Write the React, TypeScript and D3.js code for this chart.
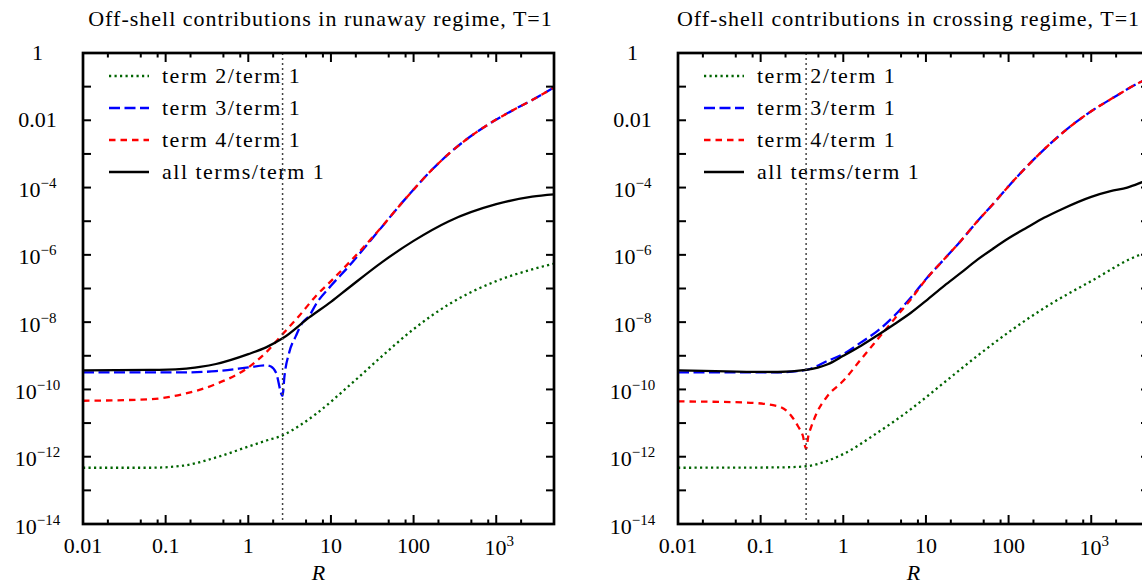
import React from "react";
import * as d3 from "d3";

type Pt = [number, number];

// ---------- data ----------
const TITLES = [
  "Off-shell contributions in runaway regime, T=1",
  "Off-shell contributions in crossing regime, T=1",
];
const SERIES_NAMES = ["term 2/term 1", "term 3/term 1", "term 4/term 1", "all terms/term 1"];

const X_TICKS = [0.01, 0.1, 1, 10, 100, 1000];
const X_TICK_LABELS: [string, string][] = [
  ["0.01", ""], ["0.1", ""], ["1", ""], ["10", ""], ["100", ""], ["10", "3"],
];
const X_MINOR_MULT = [2, 5, 8];
const Y_EXPONENTS = d3.range(-14, 1);
const Y_LABEL_EXPONENTS = [0, -2, -4, -6, -8, -10, -12, -14];
const VLINE_R = [2.6, 0.355];

// runaway regime
const LEFT_TERM2: Pt[] = [
  [0.01, 4.7e-13], [0.064, 4.7e-13], [0.161, 5.4e-13], [0.407, 9.5e-13], [1, 2.0e-12],
  [1.64, 3.0e-12], [2.6, 4.3e-12], [4.14, 8.3e-12], [6.58, 1.86e-11], [16.6, 1.29e-10],
  [42, 1.0e-9], [100, 6.2e-9], [268, 3.4e-8], [1000, 1.66e-7], [2722, 3.7e-7], [5000, 5.5e-7],
];
const LEFT_TERM3: Pt[] = [
  [0.01, 3.2e-10], [0.161, 3.2e-10], [0.407, 3.5e-10], [1, 4.5e-10], [1.64, 5.2e-10],
  [1.88, 4.8e-10], [2.16, 3.2e-10], [2.6, 6.5e-11], [2.73, 2.3e-10], [3.13, 1.26e-9],
  [3.77, 3.9e-9], [4.54, 9.8e-9], [5.47, 1.55e-8], [6.58, 3.4e-8], [10, 1.2e-7],
  [16.6, 4.7e-7], [26.4, 1.8e-6], [42, 7.1e-6], [66.7, 2.8e-5], [100, 8.7e-5],
  [169, 3.5e-4], [268, 1.02e-3], [427, 2.6e-3], [680, 5.8e-3], [1000, 1.05e-2],
  [1714, 2.2e-2], [2722, 4.0e-2], [5000, 9.5e-2],
];
const LEFT_TERM4: Pt[] = [
  [0.01, 4.6e-11], [0.064, 5.1e-11], [0.161, 7.2e-11], [0.407, 1.45e-10], [1, 4.5e-10],
  [1.64, 1.26e-9], [2.6, 4.4e-9], [4.14, 1.55e-8], [6.58, 6.0e-8], [10, 1.66e-7],
  [16.6, 5.9e-7], [26.4, 2.0e-6], [42, 7.2e-6], [66.7, 2.8e-5], [100, 8.7e-5],
  [169, 3.5e-4], [268, 1.02e-3], [427, 2.6e-3], [680, 5.8e-3], [1000, 1.05e-2],
  [1714, 2.2e-2], [2722, 4.0e-2], [5000, 9.5e-2],
];
const LEFT_ALL: Pt[] = [
  [0.01, 3.7e-10], [0.064, 3.8e-10], [0.161, 4.1e-10], [0.26, 4.7e-10], [0.407, 5.7e-10],
  [1, 1.12e-9], [1.64, 1.78e-9], [2.6, 3.3e-9], [5.47, 1.38e-8], [10, 4.0e-8],
  [16.6, 1.07e-7], [42, 6.2e-7], [100, 2.6e-6], [268, 1.0e-5], [1000, 3.2e-5],
  [2722, 5.4e-5], [5000, 6.3e-5],
];

// crossing regime
const RIGHT_TERM2: Pt[] = [
  [0.01, 4.7e-13], [0.161, 4.8e-13], [0.355, 5.2e-13], [0.648, 7.6e-13], [1, 1.2e-12],
  [2.6, 5.2e-12], [6.58, 2.6e-11], [16.6, 1.6e-10], [42, 1.0e-9], [100, 5.0e-9],
  [268, 2.6e-8], [1000, 1.66e-7], [4130, 1.05e-6], [5000, 1.2e-6],
];
const RIGHT_TERM3: Pt[] = [
  [0.01, 3.2e-10], [0.161, 3.2e-10], [0.355, 3.8e-10], [0.648, 7.1e-10], [1, 1.12e-9],
  [1.64, 2.5e-9], [2.6, 5.5e-9], [4.14, 1.55e-8], [6.58, 5.4e-8], [10, 1.9e-7],
  [16.6, 7.4e-7], [26.4, 2.6e-6], [42, 1.0e-5], [66.7, 3.5e-5], [100, 1.1e-4],
  [169, 4.4e-4], [268, 1.35e-3], [427, 3.8e-3], [1000, 1.86e-2], [1714, 4.2e-2],
  [4130, 0.145], [5000, 0.18],
];
const RIGHT_TERM4: Pt[] = [
  [0.01, 4.4e-11], [0.064, 4.1e-11], [0.161, 3.2e-11], [0.234, 1.66e-11], [0.281, 8.3e-12],
  [0.324, 4.2e-12], [0.355, 1.7e-12], [0.378, 4.2e-12], [0.407, 7.4e-12], [0.491, 2.3e-11],
  [0.648, 6.5e-11], [1, 1.8e-10], [1.64, 7.9e-10], [2.6, 3.1e-9], [4.14, 1.23e-8],
  [6.58, 4.8e-8], [10, 1.86e-7], [16.6, 7.4e-7], [26.4, 2.6e-6], [42, 1.0e-5],
  [66.7, 3.5e-5], [100, 1.1e-4], [169, 4.4e-4], [268, 1.35e-3], [427, 3.8e-3],
  [1000, 1.86e-2], [1714, 4.2e-2], [4130, 0.145], [5000, 0.18],
];
const RIGHT_ALL: Pt[] = [
  [0.01, 3.7e-10], [0.161, 3.3e-10], [0.355, 3.8e-10], [0.648, 5.6e-10], [1, 1.0e-9],
  [1.64, 2.0e-9], [2.6, 4.1e-9], [4.14, 8.7e-9], [6.58, 1.9e-8], [10, 4.3e-8],
  [16.6, 1.2e-7], [26.4, 2.9e-7], [42, 7.2e-7], [66.7, 1.6e-6], [100, 3.1e-6],
  [169, 6.6e-6], [268, 1.26e-5], [427, 2.2e-5], [1000, 5.3e-5], [1714, 7.8e-5],
  [2722, 1.0e-4], [4130, 1.45e-4], [5000, 1.74e-4],
];

const PANELS = [
  { title: TITLES[0], series: [LEFT_TERM2, LEFT_TERM3, LEFT_TERM4, LEFT_ALL], vline: VLINE_R[0] },
  { title: TITLES[1], series: [RIGHT_TERM2, RIGHT_TERM3, RIGHT_TERM4, RIGHT_ALL], vline: VLINE_R[1] },
];

// ---------- styles ----------
const STYLES = [
  { color: "#006400", dash: "2.2,3.3", width: 2.3 },
  { color: "#0000ff", dash: "11,4.5", width: 2.3 },
  { color: "#ff0000", dash: "6.5,5", width: 2.3 },
  { color: "#000000", dash: "", width: 2.3 },
];
const FONT = "'Liberation Serif', 'DejaVu Serif', serif";
const PANEL_LEFTS = [83, 678];
const TITLE_SHIFT = [2, -5];
const TOP = 53;
const SIZE = 471;

function yLabel(e: number): [string, string] {
  if (e === 0) return ["1", ""];
  if (e === -2) return ["0.01", ""];
  return ["10", "\u2212" + String(-e)];
}

function Panel({ idx }: { idx: number }) {
  const p = PANELS[idx];
  const left = PANEL_LEFTS[idx];
  const right = left + SIZE;
  const bottom = TOP + SIZE;
  const x = d3.scaleLog().domain([0.01, 5000]).range([left, right]);
  const y = d3.scaleLog().domain([1e-14, 1]).range([bottom, TOP]);
  const line = d3
    .line<Pt>()
    .x((d) => x(d[0]))
    .y((d) => y(d[1]))
    .curve(d3.curveMonotoneX);
  const clipId = `clip${idx}`;
  const minor: number[] = [];
  X_TICKS.forEach((d) => X_MINOR_MULT.forEach((m) => { if (d * m < 5000) minor.push(d * m); }));
  const cx = (left + right) / 2;

  return (
    <g>
      <defs>
        <clipPath id={clipId}>
          <rect x={left} y={TOP} width={SIZE} height={SIZE} />
        </clipPath>
      </defs>
      <text x={cx + TITLE_SHIFT[idx]} y={26} textAnchor="middle" fontSize={22} letterSpacing={1.0} fontFamily={FONT}>
        {p.title}
      </text>
      <g clipPath={`url(#${clipId})`}>
        {p.series.map((s, i) => (
          <path key={i} d={line(s) || ""} fill="none" stroke={STYLES[i].color}
            strokeWidth={STYLES[i].width} strokeDasharray={STYLES[i].dash || undefined}
            strokeLinejoin="round" />
        ))}
      </g>
      {/* legend */}
      {SERIES_NAMES.map((name, i) => {
        const ly = TOP + 23 + i * 32;
        return (
          <g key={name}>
            <line x1={left + 26} x2={left + 66} y1={ly} y2={ly} stroke={STYLES[i].color}
              strokeWidth={STYLES[i].width} strokeDasharray={STYLES[i].dash || undefined} />
            <text x={left + 79} y={ly + 6.5} fontSize={22} letterSpacing={1.5} fontFamily={FONT}>{name}</text>
          </g>
        );
      })}
      {/* vertical marker */}
      <line x1={x(p.vline)} x2={x(p.vline)} y1={TOP} y2={bottom} stroke="#444"
        strokeWidth={1.5} strokeDasharray="2,3" />
      {/* frame */}
      <rect x={left} y={TOP} width={SIZE} height={SIZE} fill="none" stroke="#000" strokeWidth={2.7} />
      {/* y ticks */}
      {Y_EXPONENTS.map((e) => {
        const ty = y(Math.pow(10, e));
        return (
          <g key={e}>
            <line x1={left} x2={left + 8} y1={ty} y2={ty} stroke="#000" strokeWidth={2} />
            <line x1={right - 8} x2={right} y1={ty} y2={ty} stroke="#000" strokeWidth={2} />
          </g>
        );
      })}
      {Y_LABEL_EXPONENTS.map((e) => {
        const [b, s] = yLabel(e);
        const ty = y(Math.pow(10, e));
        return (
          <text key={e} x={left - 45.5} y={ty + (s ? 9.5 : 7)} textAnchor="middle" fontSize={22} fontFamily={FONT}>
            {b}
            {s && <tspan dy={-9} fontSize={15}>{s}</tspan>}
          </text>
        );
      })}
      {/* x ticks */}
      {X_TICKS.map((v, i) => {
        const tx = x(v);
        const [b, s] = X_TICK_LABELS[i];
        return (
          <g key={v}>
            <line x1={tx} x2={tx} y1={bottom} y2={bottom - 9} stroke="#000" strokeWidth={2} />
            <line x1={tx} x2={tx} y1={TOP} y2={TOP + 9} stroke="#000" strokeWidth={2} />
            <text x={tx + (s ? 3 : 0)} y={s ? 555 : 553} textAnchor="middle" fontSize={22} fontFamily={FONT}>
              {b}
              {s && <tspan dy={-9} fontSize={15}>{s}</tspan>}
            </text>
          </g>
        );
      })}
      {minor.map((v) => {
        const tx = x(v);
        return (
          <g key={v}>
            <line x1={tx} x2={tx} y1={bottom} y2={bottom - 4.5} stroke="#000" strokeWidth={2} />
            <line x1={tx} x2={tx} y1={TOP} y2={TOP + 4.5} stroke="#000" strokeWidth={2} />
          </g>
        );
      })}
      <text x={cx} y={580} textAnchor="middle" fontSize={22} fontStyle="italic" fontFamily={FONT}>R</text>
    </g>
  );
}

export default function App() {
  return (
    <svg width={1142} height={585} viewBox="0 0 1142 585"
      style={{ position: "fixed", left: 0, top: 0, background: "#fff" }}>
      <rect x={0} y={0} width={1142} height={585} fill="#fff" />
      <Panel idx={0} />
      <Panel idx={1} />
    </svg>
  );
}
